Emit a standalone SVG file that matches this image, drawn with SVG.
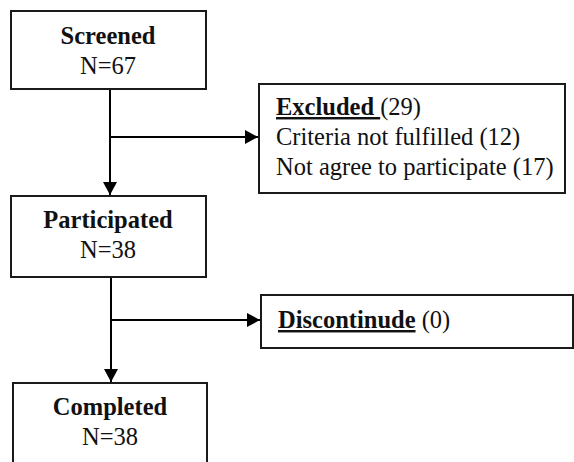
<svg xmlns="http://www.w3.org/2000/svg" width="574" height="462" viewBox="0 0 574 462">
<style>
.box{fill:#fff;stroke:#1a1a1a;stroke-width:2}
.t{font-family:"Liberation Serif","Times New Roman",serif;font-size:24.5px;fill:#111}
.b{font-weight:bold}
.c{text-anchor:middle}
.ln{stroke:#000;stroke-width:2;fill:none}
.u{text-decoration:underline}
</style>
<defs>
<marker id="ah" markerWidth="14" markerHeight="14" refX="13" refY="7" orient="auto" markerUnits="userSpaceOnUse">
<path d="M0,0 L13,7 L0,14 Z" fill="#000"/>
</marker>
</defs>
<g id="connectors">
<line class="ln" x1="110" y1="89" x2="110" y2="195" marker-end="url(#ah)"/>
<line class="ln" x1="110" y1="137" x2="258" y2="137" marker-end="url(#ah)"/>
<line class="ln" x1="111" y1="277" x2="111" y2="382" marker-end="url(#ah)"/>
<line class="ln" x1="111" y1="320" x2="260" y2="320" marker-end="url(#ah)"/>
</g>
<g id="screened">
<rect class="box" x="11" y="11" width="195" height="78"/>
<text class="t b c" x="108" y="44">Screened</text>
<text class="t c" x="108" y="74">N=67</text>
</g>
<g id="excluded">
<rect class="box" x="259" y="84" width="306" height="109"/>
<text class="t" x="276" y="115"><tspan class="b u">Excluded </tspan>(29)</text>
<text class="t" x="276" y="145">Criteria not fulfilled (12)</text>
<text class="t" x="276" y="175">Not agree to participate (17)</text>
</g>
<g id="participated">
<rect class="box" x="11" y="196" width="195" height="81"/>
<text class="t b c" x="108" y="228">Participated</text>
<text class="t c" x="108" y="258">N=38</text>
</g>
<g id="discontinude">
<rect class="box" x="261" y="295" width="312" height="53"/>
<text class="t" x="278" y="328"><tspan class="b u">Discontinude</tspan> (0)</text>
</g>
<g id="completed">
<rect class="box" x="13" y="383" width="194" height="90"/>
<text class="t b c" x="110" y="415">Completed</text>
<text class="t c" x="110" y="445">N=38</text>
</g>
</svg>
